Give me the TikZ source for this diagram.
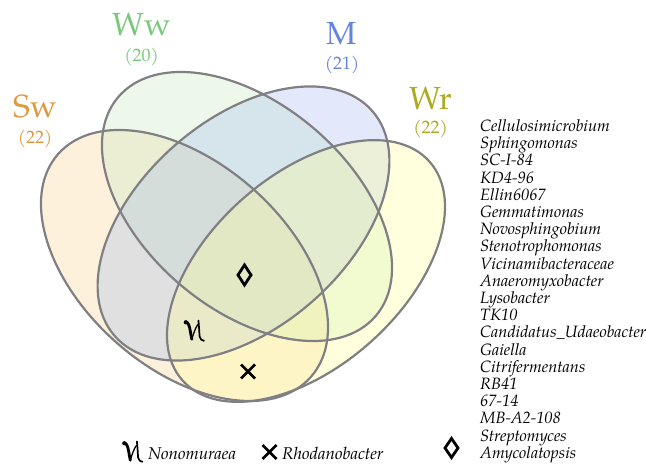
\documentclass[tikz,border=0pt]{standalone}
\usepackage{fontspec}
\setmainfont{TeX Gyre Pagella}
\definecolor{swfill}{RGB}{248,212,145}
\definecolor{wwfill}{RGB}{198,232,192}
\definecolor{mfill}{RGB}{168,188,238}
\definecolor{wrfill}{RGB}{255,255,150}
\definecolor{swtext}{RGB}{222,152,62}
\definecolor{wwtext}{RGB}{122,200,122}
\definecolor{mtext}{RGB}{102,132,220}
\definecolor{wrtext}{RGB}{172,170,32}
\definecolor{edge}{RGB}{128,128,132}
\begin{document}
\begin{tikzpicture}[x=1pt,y=-1pt,
  setfill/.style={fill opacity=0.32},
  setline/.style={draw=edge,line width=2.2pt},
  biglab/.style={inner sep=0pt,font=\fontsize{32}{32}\selectfont},
  cntlab/.style={inner sep=0pt,font=\fontsize{18}{18}\selectfont},
  genus/.style={inner sep=0pt,anchor=base west,font=\fontsize{16.4}{17}\selectfont\itshape},
  legendtext/.style={inner sep=0pt,anchor=base west,font=\fontsize{17}{17}\selectfont\itshape},
  symline/.style={line width=2.8pt,black},
  nono/.pic={
    \draw[black,line width=2.8pt,line cap=round] (0.5,0.3) .. controls (3.5,0.5) and (4.5,5) .. (5.3,9.5) .. controls (5.9,13) and (6.3,16) .. (6.8,17.8);
    \draw[black,line width=1.3pt] (6.8,17.8) .. controls (8.5,12) and (10.5,6) .. (13.2,2.5);
    \draw[black,line width=1.7pt,line cap=round] (13.4,-1) .. controls (14,4) and (14.3,11) .. (14.6,15) .. controls (15,18) and (17,19) .. (19,19.3);
    \fill[black] (0.8,0.8) circle (2.1pt);
  }]
\useasboundingbox (0,0) rectangle (646,465);
% ellipse fills
\fill[swfill,setfill,rotate around={-41.4:(184.5,265.5)}] (184.5,265.5) ellipse [x radius=168.5,y radius=102.8];
\fill[wwfill,setfill,rotate around={-40.3:(247,206.5)}] (247,206.5) ellipse [x radius=169,y radius=102.8];
\fill[mfill,setfill,rotate around={41.1:(243.5,223.5)}] (243.5,223.5) ellipse [x radius=171,y radius=104];
\fill[wrfill,setfill,rotate around={41.5:(306,271)}] (306,271) ellipse [x radius=165,y radius=96];
% ellipse outlines
\draw[setline,rotate around={-41.4:(184.5,265.5)}] (184.5,265.5) ellipse [x radius=168.5,y radius=102.8];
\draw[setline,rotate around={-40.3:(247,206.5)}] (247,206.5) ellipse [x radius=169,y radius=102.8];
\draw[setline,rotate around={41.1:(243.5,223.5)}] (243.5,223.5) ellipse [x radius=171,y radius=104];
\draw[setline,rotate around={41.5:(306,271)}] (306,271) ellipse [x radius=165,y radius=96];
% set labels
\node[biglab,text=swtext] (swname) at (35,106) {Sw};
\node[cntlab,text=swtext] (swcount) at (35,139) {(22)};
\node[biglab,text=wwtext] (wwname) at (141.5,24) {Ww};
\node[cntlab,text=wwtext] (wwcount) at (141.5,57) {(20)};
\node[biglab,text=mtext] (mname) at (341.5,34) {M};
\node[cntlab,text=mtext] (mcount) at (342,65) {(21)};
\node[biglab,text=wrtext] (wrname) at (430.5,98) {Wr};
\node[cntlab,text=wrtext] (wrcount) at (430.5,129) {(22)};
% symbols in the diagram
\draw[symline,line join=miter] (244.5,265) -- (251,275) -- (244.5,285) -- (238,275) -- cycle;
\draw[symline] (241,364.5) -- (255,378.5) (255,364.5) -- (241,378.5);
\pic at (185,321.5) {nono};
% legend
\pic at (123.5,442.5) {nono};
\node[legendtext] (nonomuraea) at (148,459) {Nonomuraea};
\draw[symline] (262.5,445) -- (276.5,459) (276.5,445) -- (262.5,459);
\node[legendtext] (rhodanobacter) at (282,459) {Rhodanobacter};
\draw[symline,line join=miter] (451.5,438.5) -- (458,448) -- (451.5,457.5) -- (445,448) -- cycle;
% genus list
\foreach \g [count=\i] in {Cellulosimicrobium,Sphingomonas,SC-I-84,KD4-96,Ellin6067,Gemmatimonas,Novosphingobium,Stenotrophomonas,Vicinamibacteraceae,Anaeromyxobacter,Lysobacter,TK10,Candidatus\_Udaeobacter,Gaiella,Citrifermentans,RB41,67-14,MB-A2-108,Streptomyces,Amycolatopsis}
  \node[genus] (g\i) at (480,131.5+17.2*\i-17.2) {\g};
\end{tikzpicture}
\end{document}
